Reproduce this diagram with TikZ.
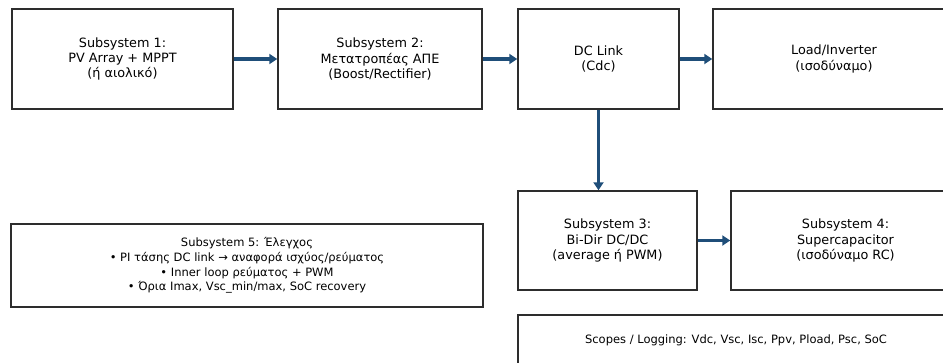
\documentclass[tikz,border=0pt]{standalone}
\usepackage{fontspec}
\setmainfont{DejaVu Sans}
\usetikzlibrary{arrows.meta,positioning}
\definecolor{flowblue}{RGB}{31,78,121}
\definecolor{edgegray}{RGB}{45,45,45}
\tikzset{
  block/.style={draw=edgegray, line width=1.4pt, fill=white, align=center,
    font=\fontsize{12.8}{15.2}\selectfont, inner sep=0pt},
  flow/.style={draw=flowblue, line width=3.4pt,
    -{Triangle[length=8pt,width=10pt]}},
}
\begin{document}
\begin{tikzpicture}
    [
      x=1pt, y=-1pt,
    ]
    \useasboundingbox (0,0) rectangle (943,362);
    \clip (0,0) rectangle (943,362);

    % top row
    \node [block, minimum width=221pt, minimum height=100pt] (pv) at (122.5,59)
      {Subsystem 1:\\PV Array + MPPT\\(ή αιολικό)};
    \node [block, minimum width=204pt, minimum height=100pt] (ape) at (380,59)
      {Subsystem 2:\\Μετατροπέας ΑΠΕ\\(Boost/Rectifier)};
    \node [block, minimum width=161pt, minimum height=100pt] (dclink) at (598.5,59)
      {DC Link\\(Cdc)};
    \node [block, minimum width=242pt, minimum height=100pt] (load) at (834,59)
      {Load/Inverter\\(ισοδύναμο)};

    % storage row
    \node [block, minimum width=179pt, minimum height=99pt] (bidir) at (607.5,240.5)
      {Subsystem 3:\\Bi-Dir DC/DC\\(average ή PWM)};
    \node [block, minimum width=229pt, minimum height=99pt] (supcap) at (845.5,240.5)
      {Subsystem 4:\\Supercapacitor\\(ισοδύναμο RC)};

    % control and logging
    \node [block, minimum width=472pt, minimum height=83pt,
      font=\fontsize{11.5}{14.6}\selectfont] (ctrl) at (247,265.5)
      {Subsystem 5: Έλεγχος\\
       • PI τάσης DC link → αναφορά ισχύος/ρεύματος\\
       • Inner loop ρεύματος + PWM\\
       • Όρια Imax, Vsc\_min/max, SoC recovery};
    \node [block, minimum width=436pt, minimum height=50pt,
      font=\fontsize{11.5}{14}\selectfont] (scopes) at (736,340)
      {Scopes / Logging: Vdc, Vsc, Isc, Ppv, Pload, Psc, SoC};

    % arrows
    \draw [flow] (pv) -- (ape);
    \draw [flow] (ape) -- (dclink);
    \draw [flow] (dclink) -- (load);
    \draw [flow] (dclink.south) -- (dclink.south |- bidir.north);
    \draw [flow] (bidir) -- (supcap);
\end{tikzpicture}
\end{document}
